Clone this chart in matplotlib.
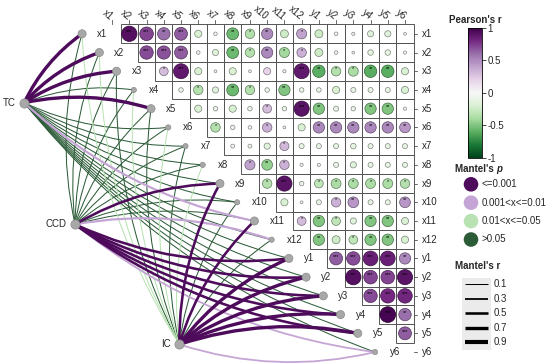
import numpy as np
import matplotlib.pyplot as plt
from matplotlib import colors, cm
from matplotlib.patches import Rectangle, FancyArrowPatch

plt.rcParams['font.family'] = ['Liberation Sans', 'DejaVu Sans']
plt.rcParams['axes.unicode_minus'] = False

labels = ['x1', 'x2', 'x3', 'x4', 'x5', 'x6', 'x7', 'x8', 'x9', 'x10', 'x11', 'x12',
          'y1', 'y2', 'y3', 'y4', 'y5', 'y6']

# Pearson's r, upper triangle, one list per row (columns i+1 .. end)
r_rows = [
    [0.92, 0.72, 0.6, 0.65, -0.2, -0.05, -0.55, -0.35, 0.5, -0.25, 0.4, -0.25, -0.05, -0.04, -0.15, -0.15, -0.03],
    [0.7, 0.68, 0.65, -0.05, -0.15, -0.55, -0.35, 0.5, -0.4, 0.35, -0.25, -0.05, -0.03, -0.12, -0.12, -0.04],
    [0.3, 0.88, -0.2, -0.03, -0.2, -0.03, 0.2, -0.04, 0.88, -0.6, -0.35, -0.38, -0.6, -0.6, -0.2],
    [-0.08, -0.35, -0.15, -0.55, -0.35, -0.08, -0.5, -0.08, -0.08, -0.2, -0.1, -0.1, -0.1, -0.2],
    [-0.2, -0.08, -0.2, -0.08, 0.3, -0.08, 0.9, -0.5, -0.1, -0.08, -0.5, -0.5, -0.04],
    [-0.35, -0.08, -0.05, 0.35, -0.03, -0.2, 0.5, 0.5, 0.5, 0.5, 0.5, 0.45],
    [-0.06, -0.06, -0.15, 0.32, -0.1, -0.1, -0.1, -0.12, -0.1, -0.1, -0.1],
    [0.4, -0.45, 0.35, -0.04, -0.04, -0.1, -0.15, -0.1, -0.1, -0.1],
    [-0.35, 0.9, -0.08, -0.3, -0.38, -0.38, -0.38, -0.38, -0.35],
    [-0.2, -0.03, -0.1, 0.35, 0.45, -0.1, -0.1, 0.45],
    [0.3, -0.5, -0.3, -0.15, -0.5, -0.5, -0.2],
    [-0.5, -0.25, -0.3, -0.5, -0.5, -0.2],
    [0.65, 0.7, 0.85, 0.85, 0.5],
    [0.92, 0.72, 0.72, 0.9],
    [0.7, 0.8, 0.82],
    [0.97, 0.6],
    [0.65],
]

# Mantel test of each environment factor against the 18 variables
env_names = ['TC', 'CCD', 'IC']
tc_r = [0.7, 0.7, 0.7, 0.1, 0.7, 0.1, 0.1, 0.1, 0.1, 0.1, 0.4, 0.1, 0.1, 0.1, 0.1, 0.1, 0.1, 0.1]
tc_p = [0.001, 0.001, 0.001, 0.3, 0.001, 0.4, 0.5, 0.3, 0.2, 0.3, 0.005, 0.3, 0.4, 0.5, 0.4, 0.3, 0.4, 0.5]
ccd_r = [0.1, 0.1, 0.1, 0.1, 0.1, 0.1, 0.1, 0.1, 0.5, 0.1, 0.1, 0.4, 0.5, 0.5, 0.5, 0.5, 0.5, 0.3]
ccd_p = [0.3, 0.4, 0.2, 0.5, 0.3, 0.4, 0.3, 0.2, 0.001, 0.3, 0.2, 0.005, 0.001, 0.001, 0.001, 0.001, 0.001, 0.005]
ic_r = [0.1, 0.1, 0.1, 0.1, 0.1, 0.1, 0.1, 0.1, 0.5, 0.1, 0.5, 0.1, 0.7, 0.7, 0.7, 0.7, 0.7, 0.3]
ic_p = [0.03, 0.02, 0.3, 0.04, 0.2, 0.03, 0.4, 0.02, 0.001, 0.3, 0.001, 0.2, 0.001, 0.001, 0.001, 0.001, 0.001, 0.005]

p_labels = ['<=0.001', '0.001<x<=0.01', '0.01<x<=0.05', '>0.05']
p_colors = ['#4e0b5c', '#c4a5d5', '#b8e2b2', '#2b5b37']
r_breaks = [0.1, 0.3, 0.5, 0.7, 0.9]


def p_class(p):
    if p <= 0.001:
        return 0
    if p <= 0.01:
        return 1
    if p <= 0.05:
        return 2
    return 3


def stars(r):
    a = abs(r)
    if a >= 0.62:
        return '***'
    if a >= 0.45:
        return '**'
    if a >= 0.3:
        return '*'
    return ''


def edge_width(r):
    return 0.45 + 2.8 * r


# layout: one data unit = one cell (17.23 x 18.72 px)
CW, RH = 17.23, 18.72
X0, Y0 = 112.1, 33.8
W, H = 550, 363
n = len(labels)
txt = '#262626'
cmap = plt.get_cmap('PRGn_r')
norm = colors.Normalize(-1, 1)

fig = plt.figure(figsize=(5.5, 3.63), dpi=100)
ax = fig.add_axes([0, 0, 1, 1])
ax.set_xlim(-X0 / CW, (W - X0) / CW)
ax.set_ylim((H - Y0) / RH, -Y0 / RH)
ax.axis('off')

# correlation matrix
xs, ys, rs = [], [], []
for i, row in enumerate(r_rows):
    for k, r in enumerate(row):
        j = i + 1 + k
        ax.add_patch(Rectangle((j - 0.5, i - 0.5), 1, 1, fill=False,
                               edgecolor='#555555', lw=0.7, zorder=2))
        xs.append(j)
        ys.append(i)
        rs.append(r)
rs = np.array(rs)
fill = cmap(norm(rs))
edge = fill.copy()
edge[:, :3] *= 0.55
size = (16 * np.sqrt(np.abs(rs)) * 0.72) ** 2
ax.scatter(xs, ys, s=size, c=fill, edgecolors=edge, linewidths=0.5, zorder=3)
for x, y, r in zip(xs, ys, rs):
    if stars(r):
        ax.text(x, y - 0.12, stars(r), fontsize=4, ha='center', va='center',
                color='black', zorder=4)

# axis ticks and labels
for j, lab in enumerate(labels):
    ax.plot([j, j], [-0.5, -0.72], color='#555555', lw=0.6)
    ax.text(j, -0.85, lab, rotation=-40, rotation_mode='anchor', ha='right',
            va='center', fontsize=7, color=txt)
    ax.plot([n - 0.5, n - 0.3], [j, j], color='#555555', lw=0.6)
    ax.text(n - 0.02, j, lab, ha='left', va='center', fontsize=7, color=txt)

# network of Mantel links
env_pos = [(-5.1, 3.68), (-2.15, 10.18), (3.9, 16.59)]
env_split = [5, 12, 17]   # targets from this index on bend the other way
env_r = [tc_r, ccd_r, ic_r]
env_p = [tc_p, ccd_p, ic_p]
node_x = np.arange(n) - 30 / CW
node_y = np.arange(n)

links = []
for e in range(3):
    for j in range(n):
        links.append((p_class(env_p[e][j]), env_r[e][j], e, j))
links.sort(key=lambda t: -t[0])
for pc, r, e, j in links:
    rad = 0.14 if j >= env_split[e] else -0.13
    ax.add_patch(FancyArrowPatch(env_pos[e], (node_x[j], node_y[j]),
                                 connectionstyle='arc3,rad=%.2f' % rad,
                                 arrowstyle='-', shrinkA=0, shrinkB=0,
                                 lw=edge_width(r), color=p_colors[pc], zorder=1))

strong = [any(p_class(env_p[e][j]) == 0 for e in range(3)) for j in range(n)]
ax.scatter(node_x, node_y, s=[34 if s else 14 for s in strong], c='#a8a8a8',
           edgecolors='#8a8a8a', linewidths=0.5, zorder=5)
for j, lab in enumerate(labels):
    ax.text(node_x[j] + 15 / CW, node_y[j], lab, ha='left', va='center',
            fontsize=7, color=txt)
ex = [p[0] for p in env_pos]
ey = [p[1] for p in env_pos]
ax.scatter(ex, ey, s=44, c='#a8a8a8', edgecolors='#8a8a8a', linewidths=0.5, zorder=5)
for (x, y), name in zip(env_pos, env_names):
    ax.text(x - 9 / CW, y, name, ha='right', va='center', fontsize=7, color=txt)

# colour bar
cax = fig.add_axes([468 / W, 1 - 158 / H, 14 / W, 130 / H])
cb = fig.colorbar(cm.ScalarMappable(norm=norm, cmap=cmap), cax=cax,
                  ticks=[-1, -0.5, 0, 0.5, 1])
cb.ax.set_yticklabels(['-1', '-0.5', '0', '0.5', '1'])
cb.ax.tick_params(labelsize=7, length=3, width=0.6, pad=1, colors=txt)
cb.outline.set_linewidth(0.6)

# legends drawn in pixel space
lg = fig.add_axes([0, 0, 1, 1], facecolor='none')
lg.set_xlim(0, W)
lg.set_ylim(H, 0)
lg.axis('off')
lg.text(475, 20, "Pearson's r", fontsize=7, fontweight='bold', ha='center',
        va='center', color=txt)

t = lg.text(455, 169, "Mantel's ", fontsize=7, fontweight='bold', ha='left',
            va='center', color=txt)
lg.annotate('p', xy=(1, 0), xycoords=t, ha='left', va='bottom', fontsize=7,
            fontweight='bold', fontstyle='italic', color=txt)
for k, (lab, col) in enumerate(zip(p_labels, p_colors)):
    yy = 184.3 + k * 18.4
    lg.scatter([471], [yy], s=110, c=col, edgecolors='none')
    lg.text(481.7, yy, lab, fontsize=7, ha='left', va='center', color=txt)

lg.text(455, 265.7, "Mantel's r", fontsize=7, fontweight='bold', ha='left',
        va='center', color=txt)
lg.add_patch(Rectangle((461.7, 278), 29.3, 72, facecolor='#ebebeb', edgecolor='none'))
for k, rb in enumerate(r_breaks):
    yy = 284.3 + k * 14.5
    lg.plot([465, 488], [yy, yy], color='black', lw=edge_width(rb),
            solid_capstyle='butt')
    lg.text(494, yy, str(rb), fontsize=7, ha='left', va='center', color=txt)

fig.savefig('out.png', dpi=100)
